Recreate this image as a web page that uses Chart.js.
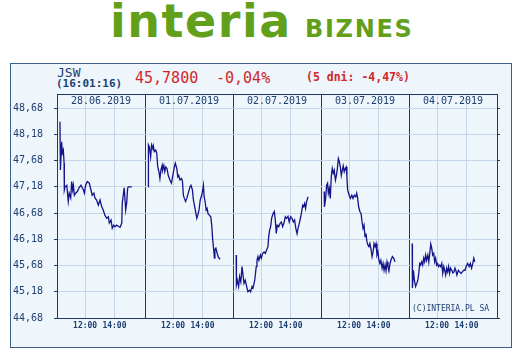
<!DOCTYPE html>
<html>
<head>
<meta charset="utf-8">
<script src="https://cdn.jsdelivr.net/npm/chart.js@4.4.0/dist/chart.umd.min.js"></script>
<style>
  body { margin: 0; width: 522px; height: 354px; background: #fff; position: relative; overflow: hidden; }
  .abs { position: absolute; white-space: nowrap; }
  #logo1 { left: 110px; top: -2px; font: bold 46px/46px "DejaVu Sans"; color: #62a01c; letter-spacing: 1.5px; }
  #logo2 { left: 305px; top: 17px; font: bold 24px/24px "DejaVu Sans"; color: #62a01c; letter-spacing: 1.7px; }
  #box { left: 10px; top: 63px; width: 500px; height: 283px; border: 1px solid #3a5f86; background: #eef5fb; }
  .mono { font-family: "DejaVu Sans Mono", monospace; }
  #sym { left: 57px; top: 66px; font-size: 13px; line-height: 13px; color: #1d3f73; }
  #time { left: 56px; top: 78px; font-size: 11px; line-height: 11px; font-weight: bold; color: #1d3f73; }
  #price { left: 135px; top: 71px; font-size: 15px; line-height: 15px; color: #d0282a; }
  #chg { left: 216px; top: 71px; font-size: 15px; line-height: 15px; color: #d0282a; }
  #chg5 { left: 306px; top: 72px; font-size: 11.5px; line-height: 11.5px; font-weight: bold; color: #d0282a; }
  #copy { left: 412px; top: 305px; font-size: 8px; line-height: 8px; color: #1d3f73; }
  #cv { position: absolute; left: 11px; top: 77px; }
</style>
</head>
<body>
<div class="abs" id="logo1">interia</div>
<div class="abs" id="logo2">BIZNES</div>
<div class="abs" id="box"></div>
<div class="abs mono" id="sym">JSW</div>
<div class="abs mono" id="time">(16:01:16)</div>
<div class="abs mono" id="price">45,7800</div>
<div class="abs mono" id="chg">-0,04%</div>
<div class="abs mono" id="chg5">(5 dni: -4,47%)</div>
<canvas id="cv" width="500" height="270"></canvas>
<div class="abs mono" id="copy">(C)INTERIA.PL SA</div>
<script>
// dni notowań i godziny na osi X
const dayLabels = ['28.06.2019', '01.07.2019', '02.07.2019', '03.07.2019', '04.07.2019'];
const xTickLabels = ['12:00', '14:00'];
const yTicks = [44.68, 45.18, 45.68, 46.18, 46.68, 47.18, 47.68, 48.18, 48.68];
const DAY_OPEN = '10:05';
const DAY_LEN = 360; // minuty na jeden dzien na osi

const day1Times = ['10:17','10:19','10:24','10:27','10:31','10:34','10:35','10:38','10:45','10:51','10:55','11:01','11:05','11:09','11:12','11:16','11:21','11:28','11:35','11:43','11:53','11:57','12:02','12:09','12:17','12:24','12:29','12:36','12:40','12:47','12:54','13:01','13:08','13:14','13:21','13:28','13:35','13:39','13:46','13:51','13:57','14:02','14:09','14:16','14:23','14:30','14:32','14:36','14:40','14:46','14:50','14:54','14:57','15:11'];
const day1Prices = [48.42,47.50,48.04,47.82,47.88,47.63,47.12,47.18,47.21,46.90,47.06,46.97,47.28,47.12,47.21,47.02,47.06,47.09,47.16,47.21,47.12,47.06,47.21,47.28,47.25,47.12,47.02,47.06,46.97,46.93,46.83,46.93,46.80,46.74,46.64,46.58,46.61,46.49,46.55,46.39,46.45,46.42,46.45,46.43,46.41,46.49,46.87,47.02,47.16,46.74,46.87,47.16,47.18,47.18];

const day2Times = ['10:18','10:19','10:23','10:28','10:32','10:37','10:39','10:43','10:49','10:53','10:57','11:02','11:06','11:10','11:15','11:17','11:22','11:26','11:30','11:35','11:40','11:47','11:53','11:58','12:05','12:09','12:15','12:19','12:23','12:28','12:34','12:38','12:42','12:46','12:51','12:56','13:02','13:09','13:13','13:19','13:23','13:27','13:32','13:37','13:41','13:46','13:51','13:57','14:01','14:04','14:07','14:11','14:15','14:19','14:23','14:28','14:34','14:38','14:42','14:46','14:49','14:51','14:55','15:01','15:05','15:12'];
const day2Prices = [47.18,47.98,47.94,47.75,47.98,47.91,47.96,47.85,47.88,47.82,47.56,47.47,47.34,47.50,47.59,47.50,47.59,47.47,47.56,47.53,47.40,47.31,47.25,47.37,47.56,47.63,47.53,47.37,47.40,47.31,47.34,47.30,47.02,46.96,46.90,46.96,47.06,47.18,47.21,47.12,46.93,46.83,46.71,46.58,46.64,46.74,46.93,47.02,47.12,47.21,46.99,46.90,46.74,46.77,46.67,46.64,46.61,46.45,46.17,45.98,45.82,45.98,46.01,45.90,45.84,45.80];

const day3Times = ['10:18','10:19','10:23','10:28','10:32','10:37','10:42','10:46','10:50','10:55','11:01','11:06','11:12','11:17','11:23','11:27','11:34','11:40','11:43','11:47','11:51','11:57','12:01','12:06','12:12','12:17','12:23','12:28','12:31','12:35','12:39','12:43','12:49','12:54','12:58','13:02','13:06','13:12','13:17','13:23','13:28','13:33','13:39','13:44','13:50','13:55','14:01','14:06','14:12','14:17','14:22','14:27','14:31','14:36','14:42','14:46','14:50','14:54','14:58','15:02','15:06','15:12'];
const day3Prices = [45.88,45.31,45.40,45.28,45.47,45.37,45.66,45.50,45.34,45.40,45.28,45.18,45.21,45.18,45.28,45.25,45.40,45.66,45.78,45.85,45.78,45.88,45.82,45.91,45.94,45.91,45.98,46.04,46.23,46.36,46.42,46.58,46.67,46.71,46.55,46.29,46.45,46.42,46.48,46.51,46.42,46.48,46.61,46.58,46.62,46.51,46.61,46.58,46.51,46.55,46.39,46.29,46.39,46.48,46.61,46.71,46.83,46.80,46.86,46.77,46.90,46.99];

const day4Times = ['10:18','10:19','10:24','10:28','10:32','10:35','10:39','10:43','10:47','10:51','10:55','10:59','11:04','11:08','11:12','11:16','11:20','11:24','11:28','11:32','11:36','11:40','11:44','11:48','11:51','11:54','12:00','12:05','12:11','12:16','12:21','12:27','12:31','12:35','12:39','12:44','12:49','12:53','12:57','13:01','13:05','13:09','13:13','13:17','13:21','13:25','13:30','13:34','13:38','13:42','13:46','13:50','13:54','13:58','14:02','14:06','14:10','14:15','14:19','14:23','14:27','14:31','14:35','14:39','14:43','14:47','14:51','14:57','15:02','15:08'];
const day4Prices = [47.09,46.80,46.96,47.21,47.25,47.06,47.15,46.96,47.37,47.53,47.44,47.50,47.31,47.40,47.53,47.72,47.66,47.56,47.40,47.50,47.58,47.47,47.53,47.56,47.37,47.12,47.02,46.96,47.02,46.96,47.02,46.99,47.06,46.96,46.80,46.71,46.67,46.51,46.39,46.45,46.23,46.29,46.13,46.07,46.04,46.10,45.98,45.85,45.94,46.10,46.04,46.10,45.88,45.94,45.78,45.72,45.78,45.63,45.72,45.59,45.69,45.58,45.75,45.66,45.58,45.71,45.78,45.85,45.82,45.75];

const day5Times = ['10:18','10:19','10:23','10:27','10:32','10:37','10:41','10:45','10:49','10:53','10:57','11:01','11:05','11:09','11:13','11:17','11:22','11:26','11:30','11:34','11:38','11:42','11:46','11:50','11:54','11:58','12:02','12:06','12:11','12:15','12:19','12:23','12:27','12:31','12:35','12:39','12:43','12:47','12:51','12:55','13:00','13:04','13:09','13:13','13:17','13:21','13:27','13:32','13:38','13:43','13:49','13:54','13:59','14:05','14:11','14:16','14:21','14:26','14:30','14:34'];
const day5Prices = [46.10,45.25,45.59,45.40,45.28,45.34,45.40,45.53,45.72,45.69,45.75,45.69,45.82,45.75,45.88,45.78,45.88,45.75,45.91,46.09,46.01,45.88,45.91,45.75,45.82,45.69,45.72,45.66,45.69,45.66,45.72,45.53,45.66,45.59,45.50,45.63,45.56,45.66,45.53,45.63,45.59,45.54,45.56,45.63,45.58,45.50,45.59,45.56,45.53,45.56,45.59,45.59,45.66,45.72,45.66,45.72,45.63,45.72,45.82,45.75];

const dayTimes = [day1Times, day2Times, day3Times, day4Times, day5Times];
const dayPrices = [day1Prices, day2Prices, day3Prices, day4Prices, day5Prices];

const DARK = '#1f3b63';
const LIGHT = '#c3d5e6';
const TEXT = '#1d3f73';

function toMin(t) {
    const p = t.split(':');
    const o = DAY_OPEN.split(':');
    return parseInt(p[0]) * 60 + parseInt(p[1]) - (parseInt(o[0]) * 60 + parseInt(o[1]));
}

// ticki osi X: granice dni + 12:00 i 14:00 w kazdym dniu
const xTicks = [];
const xTickText = {};
for (let d = 0; d <= dayLabels.length; d++) {
    xTicks.push(d * DAY_LEN);
    if (d < dayLabels.length) {
        xTickLabels.forEach(l => {
            xTicks.push(d * DAY_LEN + toMin(l));
            xTickText[d * DAY_LEN + toMin(l)] = l;
        });
    }
}
xTicks.sort((a, b) => a - b);

const datasets = dayPrices.map((prices, d) => ({
    data: prices.map((p, i) => ({ x: d * DAY_LEN + toMin(dayTimes[d][i]), y: p })),
    borderColor: '#14148a',
    borderWidth: 1.3,
    pointRadius: 0,
    tension: 0,
    fill: false
}));

const dayLabelPlugin = {
    id: 'dayLabels',
    afterDraw(chart) {
        const { ctx, chartArea, scales } = chart;
        ctx.save();
        ctx.font = '10px "DejaVu Sans Mono"';
        ctx.fillStyle = TEXT;
        ctx.textAlign = 'center';
        ctx.textBaseline = 'middle';
        dayLabels.forEach((l, i) => {
            ctx.fillText(l, scales.x.getPixelForValue(i * DAY_LEN + DAY_LEN / 2), chartArea.top + 7.5);
        });
        ctx.restore();
    }
};

const fmt = v => v.toFixed(2).replace('.', ',');

const ctx = document.getElementById('cv').getContext('2d');
const myChart = new Chart(ctx, {
    type: 'line',
    data: { datasets: datasets },
    plugins: [dayLabelPlugin],
    options: {
        responsive: false,
        animation: false,
        layout: { padding: 0 },
        plugins: { legend: { display: false }, tooltip: { enabled: false } },
        scales: {
            x: {
                type: 'linear',
                min: 0,
                max: DAY_LEN * dayLabels.length,
                afterBuildTicks: s => { s.ticks = xTicks.map(v => ({ value: v })); },
                afterFit: s => { s.height = 29; },
                ticks: {
                    autoSkip: false,
                    maxRotation: 0,
                    padding: 3,
                    color: TEXT,
                    font: { family: 'DejaVu Sans Mono', size: 8, weight: 'bold' },
                    callback: v => xTickText[v] || ''
                },
                grid: {
                    drawTicks: false,
                    color: c => (c.tick && c.tick.value % DAY_LEN === 0) ? DARK : LIGHT,
                    lineWidth: 1
                },
                border: { color: DARK, width: 1 }
            },
            x2: {
                type: 'linear',
                position: 'top',
                afterFit: s => { s.height = 0; },
                ticks: { display: false },
                grid: { display: false },
                border: { display: true, color: DARK, width: 1 }
            },
            y: {
                min: yTicks[0],
                max: 48.95,
                afterBuildTicks: s => { s.ticks = yTicks.map(v => ({ value: v })); },
                afterFit: s => { s.width = 46; },
                ticks: {
                    padding: 11,
                    color: TEXT,
                    font: { family: 'DejaVu Sans Mono', size: 10 },
                    callback: v => fmt(v)
                },
                grid: { color: LIGHT, tickColor: DARK, tickLength: 3, lineWidth: 1 },
                border: { color: DARK, width: 1 }
            },
            y2: {
                position: 'right',
                min: yTicks[0],
                max: 48.95,
                afterBuildTicks: s => { s.ticks = yTicks.map(v => ({ value: v })); },
                afterFit: s => { s.width = 14; },
                ticks: { display: false },
                grid: { drawOnChartArea: false, color: DARK, tickLength: 3 },
                border: { color: DARK, width: 1 }
            }
        }
    }
});
</script>
</body>
</html>
